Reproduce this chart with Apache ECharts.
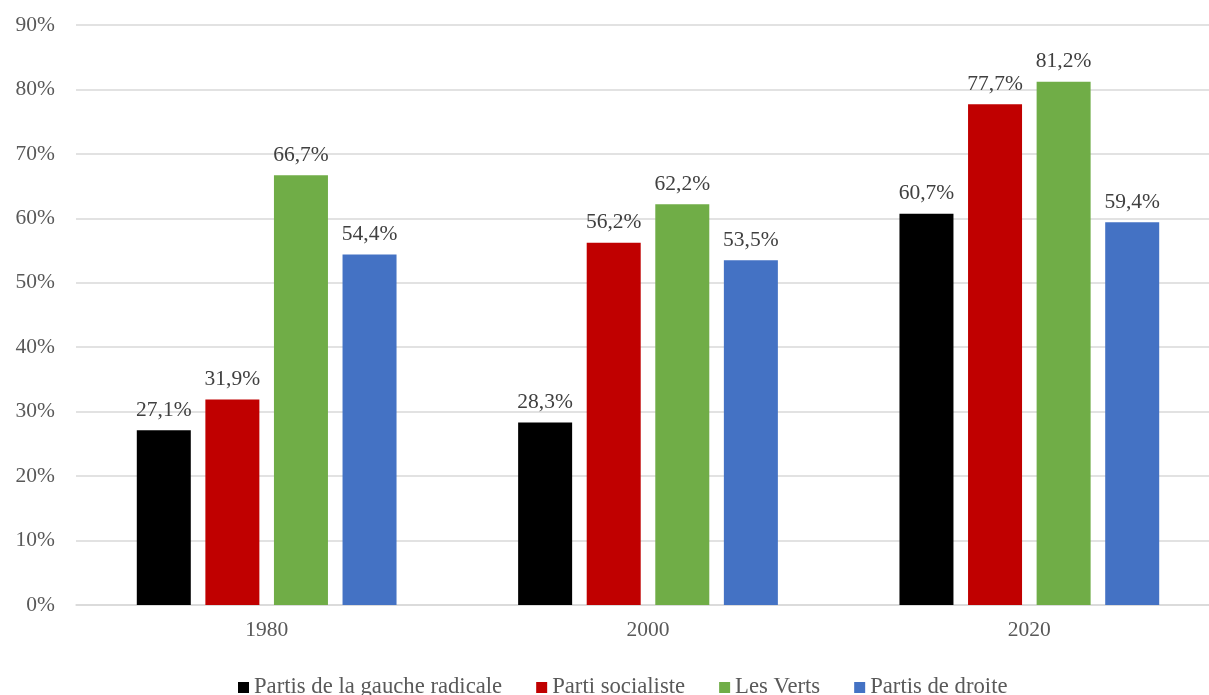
<!DOCTYPE html>
<html>
<head>
<meta charset="utf-8">
<script src="https://cdn.jsdelivr.net/npm/echarts@6/dist/echarts.min.js"></script>
<style>
  html, body { margin: 0; padding: 0; background: #fff; }
  #chart { width: 1209px; height: 695px; }
</style>
</head>
<body>
<div id="chart"></div>
<script>
// Years on the category axis
const years = ['1980', '2000', '2020'];

// Share per party family, in percent
const gaucheRadicale = [27.1, 28.3, 60.7];
const partiSocialiste = [31.9, 56.2, 77.7];
const lesVerts = [66.7, 62.2, 81.2];
const partisDroite = [54.4, 53.5, 59.4];

const seriesNames = ['Partis de la gauche radicale', 'Parti socialiste', 'Les Verts', 'Partis de droite'];
const seriesColors = ['#000000', '#C00000', '#70AD47', '#4472C4'];
const seriesValues = [gaucheRadicale, partiSocialiste, lesVerts, partisDroite];

const FONT = '"Liberation Serif", "Times New Roman", serif';
const fmtPct = v => v.toFixed(1).replace('.', ',') + '%';

const chart = echarts.init(document.getElementById('chart'));
chart.setOption({
  animation: false,
  backgroundColor: '#ffffff',
  // plot area runs slightly past the right edge of the canvas
  grid: {
    left: 76, width: 1144, top: 25, bottom: 90,
    containLabel: false, outerBoundsMode: 'none'
  },
  legend: {
    left: 233,
    top: 671,
    itemWidth: 11,
    itemHeight: 11,
    itemGap: 34,
    icon: 'rect',
    textStyle: { fontFamily: FONT, fontSize: 22.7, color: '#595959' },
    data: seriesNames
  },
  xAxis: {
    type: 'category',
    data: years,
    axisLine: { lineStyle: { color: '#D9D9D9', width: 1.5 } },
    axisTick: { show: false },
    axisLabel: { fontFamily: FONT, fontSize: 21.5, color: '#595959', margin: 14 }
  },
  yAxis: {
    type: 'value',
    min: 0,
    max: 90,
    interval: 10,
    axisLine: { show: false },
    axisTick: { show: false },
    splitLine: { lineStyle: { color: '#D9D9D9', width: 1.5 } },
    axisLabel: {
      fontFamily: FONT, fontSize: 21.5, color: '#595959', margin: 21,
      formatter: v => v + '%'
    }
  },
  series: seriesNames.map((name, i) => ({
    name,
    type: 'bar',
    data: seriesValues[i],
    barWidth: 54,
    barGap: '27%',
    itemStyle: { color: seriesColors[i] },
    label: {
      show: true,
      position: 'top',
      distance: 9,
      fontFamily: FONT,
      fontSize: 21.5,
      color: '#404040',
      formatter: p => fmtPct(p.value)
    }
  }))
});
</script>
</body>
</html>
